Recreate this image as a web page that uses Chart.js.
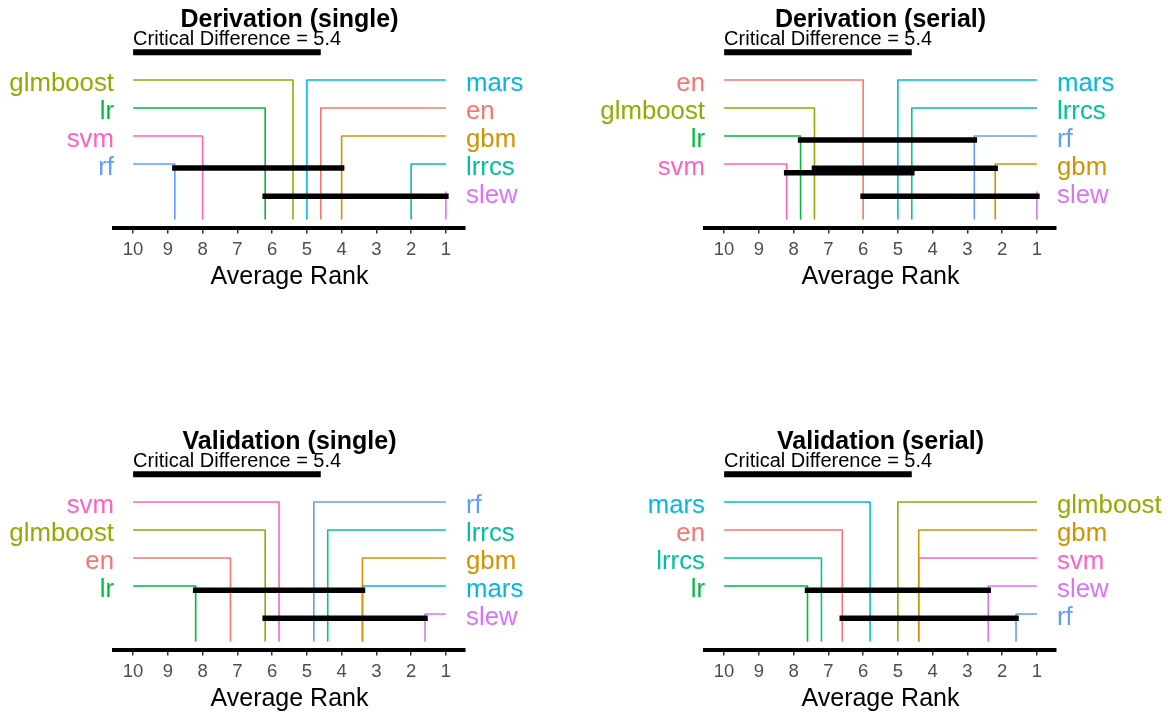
<!DOCTYPE html>
<html>
<head>
<meta charset="utf-8">
<title>Average rank - critical difference</title>
<script src="https://cdn.jsdelivr.net/npm/chart.js@4"></script>
<style>
  html, body { margin: 0; padding: 0; background: #fff; overflow: hidden; }
  .panel { position: absolute; width: 584px; height: 292px; }
</style>
</head>
<body>
<div class="panel" style="left:0;top:0"><canvas id="derivSingle" width="584" height="292"></canvas></div>
<div class="panel" style="left:584px;top:0"><canvas id="derivSerial" width="584" height="292"></canvas></div>
<div class="panel" style="left:0;top:422px"><canvas id="validSingle" width="584" height="292"></canvas></div>
<div class="panel" style="left:584px;top:422px"><canvas id="validSerial" width="584" height="292"></canvas></div>
<script>
// model colours, one per model
const modelNames = ["en", "gbm", "glmboost", "lr", "lrrcs", "mars", "rf", "slew", "svm"];
const modelColors = ["#F8766D", "#D39200", "#93AA00", "#00BA38", "#00C19F", "#00B9E3", "#619CFF", "#DB72FB", "#FF61C3"];

const rankTicks = [10, 9, 8, 7, 6, 5, 4, 3, 2, 1];
const criticalDiff = 5.4;

// Derivation (single)
const derivSingleLeft = ["glmboost", "lr", "svm", "rf"];
const derivSingleLeftRanks = [5.4, 6.2, 8.0, 8.8];
const derivSingleRight = ["mars", "en", "gbm", "lrrcs", "slew"];
const derivSingleRightRanks = [5.0, 4.6, 4.0, 2.0, 1.0];
const derivSingleCliques = [[8.8, 4.0], [6.2, 1.0]];

// Derivation (serial)
const derivSerialLeft = ["en", "glmboost", "lr", "svm"];
const derivSerialLeftRanks = [6.0, 7.4, 7.8, 8.2];
const derivSerialRight = ["mars", "lrrcs", "rf", "gbm", "slew"];
const derivSerialRightRanks = [5.0, 4.6, 2.8, 2.2, 1.0];
const derivSerialCliques = [[7.8, 2.8], [7.4, 2.2], [8.2, 4.6], [6.0, 1.0]];

// Validation (single)
const validSingleLeft = ["svm", "glmboost", "en", "lr"];
const validSingleLeftRanks = [5.8, 6.2, 7.2, 8.2];
const validSingleRight = ["rf", "lrrcs", "gbm", "mars", "slew"];
const validSingleRightRanks = [4.8, 4.4, 3.4, 3.4, 1.6];
const validSingleCliques = [[8.2, 3.4], [6.2, 1.6]];

// Validation (serial)
const validSerialLeft = ["mars", "en", "lrrcs", "lr"];
const validSerialLeftRanks = [5.8, 6.6, 7.2, 7.6];
const validSerialRight = ["glmboost", "gbm", "svm", "slew", "rf"];
const validSerialRightRanks = [5.0, 4.4, 4.4, 2.4, 1.6];
const validSerialCliques = [[7.6, 2.4], [6.6, 1.6]];

// ---- layout (y is in label-row units, row 0 = top label) ----
const FONT = "'Liberation Sans', Arial, Helvetica, sans-serif";
const Y_TOP = -80 / 28;
const Y_AXIS = 147.6 / 28;
const Y_TITLE = -1.9;
const Y_CD_TEXT = -1.25;
const Y_CD_BAR = -0.99;
const Y_LINE_END = 4.96;

const colorOf = (name) => modelColors[modelNames.indexOf(name)];

// title, CD caption and model names
const cdLabels = {
  id: "cdLabels",
  afterDatasetsDraw(chart, args, opts) {
    const { ctx, chartArea, scales } = chart;
    const x = scales.x, y = scales.y;
    ctx.save();
    ctx.textBaseline = "alphabetic";

    ctx.fillStyle = "#000";
    ctx.font = "bold 25px " + FONT;
    ctx.textAlign = "center";
    ctx.fillText(opts.title, (chartArea.left + chartArea.right) / 2, y.getPixelForValue(Y_TITLE));

    ctx.font = "20px " + FONT;
    ctx.textAlign = "left";
    ctx.fillText("Critical Difference = " + criticalDiff, x.getPixelForValue(rankTicks[0]), y.getPixelForValue(Y_CD_TEXT));

    ctx.font = "25.8px " + FONT;
    ctx.textAlign = "right";
    opts.left.forEach((name, i) => {
      ctx.fillStyle = colorOf(name);
      ctx.fillText(name, chartArea.left, y.getPixelForValue(i) + 10.8);
    });
    ctx.textAlign = "left";
    opts.right.forEach((name, i) => {
      ctx.fillStyle = colorOf(name);
      ctx.fillText(name, chartArea.right + 1, y.getPixelForValue(i) + 10.8);
    });
    ctx.restore();
  }
};

function buildPanel(id, title, leftNames, leftRanks, rightNames, rightRanks, cliques, cliqueLevels, padLeft, padRight) {
  const datasets = [];

  // critical difference bar
  datasets.push({
    data: [{ x: rankTicks[0], y: Y_CD_BAR }, { x: rankTicks[0] - criticalDiff, y: Y_CD_BAR }],
    borderColor: "#000", borderWidth: 6, borderCapStyle: "butt", order: 0
  });

  // groups with no significant difference
  cliques.forEach((c, i) => {
    datasets.push({
      data: [{ x: c[0], y: cliqueLevels[i] }, { x: c[1], y: cliqueLevels[i] }],
      borderColor: "#000", borderWidth: 5.5, borderCapStyle: "square", order: 0
    });
  });

  // elbow line for each model
  leftNames.forEach((name, i) => {
    const r = leftRanks[i];
    datasets.push({
      data: [{ x: rankTicks[0], y: i }, { x: r, y: i }, { x: r, y: Y_LINE_END }],
      borderColor: colorOf(name), borderWidth: 1.6, order: 1
    });
  });
  rightNames.forEach((name, i) => {
    const r = rightRanks[i];
    datasets.push({
      data: [{ x: rankTicks[rankTicks.length - 1], y: i }, { x: r, y: i }, { x: r, y: Y_LINE_END }],
      borderColor: colorOf(name), borderWidth: 1.6, order: 1
    });
  });

  new Chart(document.getElementById(id), {
    type: "line",
    data: { datasets },
    plugins: [cdLabels],
    options: {
      responsive: false,
      animation: false,
      events: [],
      layout: { padding: { left: padLeft, right: padRight, top: 0, bottom: 0 } },
      elements: {
        point: { radius: 0 },
        line: { tension: 0, fill: false, borderJoinStyle: "round" }
      },
      plugins: {
        legend: { display: false },
        tooltip: { enabled: false },
        cdLabels: { title, left: leftNames, right: rightNames }
      },
      scales: {
        x: {
          type: "linear",
          reverse: true,
          min: 0.45,
          max: 10.55,
          afterBuildTicks: (axis) => { axis.ticks = rankTicks.map((v) => ({ value: v })); },
          afterFit: (axis) => { axis.height = 64.4; },
          grid: { display: true, drawOnChartArea: false, drawTicks: true, tickLength: 6, color: "#333", lineWidth: 1.5 },
          border: { display: true, color: "#000", width: 4 },
          ticks: { color: "#4D4D4D", font: { size: 18.5, family: FONT }, padding: 5, maxRotation: 0, autoSkip: false },
          title: { display: true, text: "Average Rank", color: "#000", font: { size: 25, family: FONT }, padding: { top: 0, bottom: 0 } }
        },
        y: { type: "linear", display: false, reverse: true, min: Y_TOP, max: Y_AXIS }
      }
    }
  });
}

buildPanel("derivSingle", "Derivation (single)", derivSingleLeft, derivSingleLeftRanks,
  derivSingleRight, derivSingleRightRanks, derivSingleCliques, [3.14, 4.15], 114, 119);
buildPanel("derivSerial", "Derivation (serial)", derivSerialLeft, derivSerialLeftRanks,
  derivSerialRight, derivSerialRightRanks, derivSerialCliques, [2.14, 3.15, 3.31, 4.15], 121, 112);
buildPanel("validSingle", "Validation (single)", validSingleLeft, validSingleLeftRanks,
  validSingleRight, validSingleRightRanks, validSingleCliques, [3.15, 4.15], 114, 119);
buildPanel("validSerial", "Validation (serial)", validSerialLeft, validSerialLeftRanks,
  validSerialRight, validSerialRightRanks, validSerialCliques, [3.15, 4.15], 121, 112);
</script>
</body>
</html>
